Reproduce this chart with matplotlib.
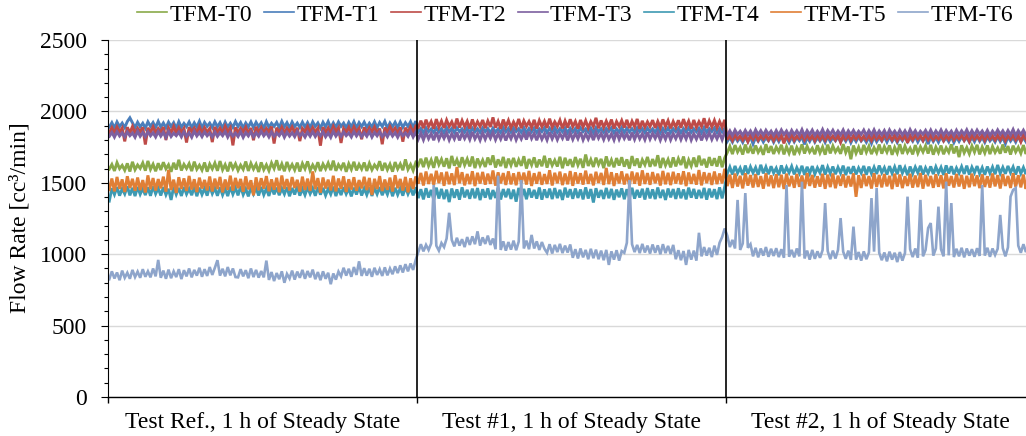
import numpy as np
import matplotlib
matplotlib.use("Agg")
import matplotlib.pyplot as plt
from matplotlib.ticker import MultipleLocator, FixedLocator, NullFormatter
from matplotlib.lines import Line2D

plt.rcParams['font.family'] = ['Liberation Serif', 'DejaVu Serif']

series_names = ["TFM-T0", "TFM-T1", "TFM-T2", "TFM-T3", "TFM-T4", "TFM-T5", "TFM-T6"]
series_colors = ["#8AAA4A", "#4A7EBB", "#BE4B48", "#7D60A0", "#3E9AB3", "#E07F36", "#8EA5CB"]
segment_labels = ["Test Ref., 1 h of Steady State", "Test #1, 1 h of Steady State",
                  "Test #2, 1 h of Steady State"]
y_ticks = [0, 500, 1000, 1500, 2000, 2500]

# flow rate readings [cc3/min], 120 samples per 1 h test, three tests one after another
T0 = [1596,1628,1583,1641,1599,1622,1588,1636,1579,1647,1592,1625,1601,1639,1585,1653,1594,1630,1581,1637,
      1590,1644,1598,1626,1577,1640,1593,1661,1586,1629,1600,1634,1582,1648,1595,1623,1589,1642,1578,1631,
      1597,1638,1584,1652,1591,1627,1580,1645,1599,1633,1587,1624,1594,1649,1583,1636,1596,1630,1576,1643,
      1592,1626,1585,1639,1600,1658,1588,1632,1581,1646,1595,1628,1590,1641,1579,1635,1598,1650,1586,1625,
      1593,1644,1582,1631,1597,1638,1589,1655,1584,1627,1599,1640,1577,1633,1594,1647,1587,1629,1596,1642,
      1583,1636,1591,1625,1600,1651,1585,1639,1592,1630,1578,1645,1597,1632,1588,1664,1594,1628,1586,1641,
      1622,1668,1610,1676,1618,1660,1605,1683,1627,1665,1613,1672,1601,1688,1620,1662,1609,1679,1624,1667,
      1615,1684,1603,1670,1621,1659,1611,1677,1626,1692,1607,1664,1617,1681,1604,1669,1623,1674,1612,1661,
      1619,1686,1600,1666,1625,1678,1608,1663,1616,1689,1606,1671,1622,1658,1614,1682,1602,1675,1620,1665,
      1610,1680,1624,1668,1605,1698,1618,1662,1611,1676,1627,1667,1603,1685,1616,1660,1609,1673,1621,1679,
      1613,1664,1600,1687,1619,1670,1606,1661,1626,1681,1612,1666,1617,1693,1604,1674,1622,1663,1608,1678,
      1615,1669,1625,1684,1602,1660,1618,1677,1611,1690,1623,1667,1607,1680,1620,1672,1614,1686,1609,1675,
      1712,1755,1701,1764,1716,1748,1698,1768,1709,1752,1704,1761,1714,1745,1696,1770,1711,1757,1702,1750,
      1717,1766,1699,1753,1708,1760,1694,1747,1713,1769,1705,1756,1715,1742,1700,1763,1710,1751,1697,1767,
      1706,1758,1716,1744,1703,1771,1712,1754,1665,1761,1707,1749,1698,1765,1714,1756,1701,1746,1711,1768,
      1704,1753,1715,1762,1696,1748,1709,1770,1702,1757,1713,1743,1699,1764,1708,1752,1716,1759,1705,1766,
      1697,1750,1712,1761,1700,1745,1714,1769,1706,1755,1680,1763,1710,1747,1703,1758,1715,1766,1699,1751,
      1709,1762,1701,1754,1713,1745,1704,1768,1711,1757,1698,1760,1716,1749,1707,1764,1702,1753,1712,1761]
T1 = [1890,1921,1884,1926,1893,1918,1887,1929,1955,1920,1886,1924,1892,1917,1883,1927,1895,1922,1888,1930,
      1891,1919,1885,1925,1894,1921,1882,1928,1889,1916,1893,1926,1886,1920,1890,1931,1884,1923,1895,1918,
      1887,1927,1892,1921,1883,1925,1890,1917,1888,1929,1894,1922,1885,1919,1891,1926,1886,1924,1893,1920,
      1882,1928,1889,1917,1895,1923,1887,1930,1891,1921,1884,1926,1893,1918,1888,1925,1890,1922,1886,1927,
      1894,1919,1883,1924,1892,1929,1887,1920,1889,1926,1895,1918,1885,1923,1891,1928,1884,1921,1893,1925,
      1888,1917,1890,1927,1886,1922,1894,1930,1883,1919,1892,1924,1887,1926,1889,1921,1895,1928,1885,1932,
      1856,1880,1851,1885,1858,1877,1853,1883,1855,1879,1850,1887,1857,1881,1852,1884,1859,1878,1854,1886,
      1851,1882,1856,1879,1853,1885,1858,1880,1850,1883,1855,1877,1852,1888,1857,1881,1854,1884,1859,1879,
      1853,1886,1850,1880,1856,1883,1852,1878,1858,1885,1851,1881,1855,1887,1853,1879,1857,1884,1850,1882,
      1856,1880,1852,1885,1858,1878,1854,1883,1851,1886,1857,1879,1853,1881,1859,1884,1850,1877,1855,1887,
      1852,1882,1856,1879,1854,1885,1858,1880,1851,1883,1857,1878,1853,1886,1850,1881,1855,1884,1852,1879,
      1858,1883,1851,1880,1856,1885,1853,1878,1857,1882,1850,1887,1854,1880,1859,1884,1852,1881,1856,1883,
      1790,1819,1785,1823,1792,1816,1783,1821,1788,1825,1772,1818,1791,1822,1786,1817,1794,1824,1784,1820,
      1789,1826,1793,1815,1782,1822,1787,1819,1795,1823,1769,1818,1790,1825,1785,1816,1792,1821,1783,1824,
      1788,1817,1794,1822,1786,1820,1791,1826,1781,1819,1789,1823,1793,1815,1784,1821,1776,1824,1787,1818,
      1792,1822,1785,1825,1790,1817,1783,1820,1794,1823,1788,1816,1791,1826,1786,1819,1793,1821,1771,1824,
      1789,1818,1784,1822,1792,1815,1787,1825,1782,1820,1790,1823,1795,1817,1785,1821,1788,1826,1791,1819,
      1783,1822,1793,1816,1786,1824,1789,1820,1774,1823,1792,1818,1785,1825,1790,1817,1787,1821,1794,1824]
T2 = [1852,1886,1848,1891,1855,1883,1790,1889,1850,1894,1846,1882,1857,1888,1768,1885,1853,1892,1849,1880,
      1856,1890,1800,1884,1851,1895,1847,1887,1854,1881,1782,1889,1858,1884,1850,1893,1845,1886,1855,1880,
      1785,1891,1852,1883,1848,1896,1856,1885,1762,1888,1851,1882,1857,1890,1846,1884,1798,1892,1853,1887,
      1849,1881,1855,1894,1775,1886,1850,1889,1847,1883,1858,1891,1852,1885,1792,1880,1856,1893,1848,1887,
      1854,1882,1760,1890,1851,1884,1846,1895,1857,1886,1779,1881,1853,1889,1849,1892,1855,1883,1805,1888,
      1850,1885,1856,1891,1847,1880,1770,1887,1852,1894,1858,1883,1845,1889,1788,1886,1854,1892,1849,1897,
      1888,1935,1882,1942,1893,1929,1879,1946,1890,1932,1884,1939,1895,1927,1881,1950,1887,1936,1892,1931,
      1880,1944,1889,1928,1894,1940,1883,1933,1891,1958,1886,1930,1878,1943,1893,1937,1885,1926,1890,1947,
      1882,1934,1896,1929,1887,1941,1880,1936,1892,1931,1884,1949,1889,1927,1895,1938,1881,1933,1886,1945,
      1893,1930,1879,1940,1890,1935,1885,1928,1894,1955,1882,1937,1888,1932,1891,1943,1880,1929,1895,1936,
      1886,1941,1883,1931,1892,1947,1878,1934,1889,1927,1894,1939,1884,1930,1887,1944,1893,1935,1881,1929,
      1890,1938,1885,1946,1892,1932,1879,1940,1888,1928,1894,1952,1883,1934,1891,1937,1886,1930,1889,1941,
      1802,1833,1797,1838,1805,1828,1799,1836,1789,1831,1804,1840,1798,1829,1806,1835,1800,1832,1796,1837,
      1803,1830,1776,1834,1801,1839,1797,1827,1807,1833,1799,1836,1804,1829,1795,1841,1802,1831,1798,1834,
      1806,1828,1800,1837,1785,1832,1803,1835,1797,1830,1805,1838,1799,1827,1801,1833,1796,1836,1804,1829,
      1798,1840,1807,1831,1800,1834,1795,1828,1803,1837,1780,1832,1801,1835,1806,1830,1797,1839,1802,1833,
      1799,1827,1805,1836,1796,1831,1803,1838,1800,1829,1807,1834,1798,1832,1791,1837,1804,1830,1801,1835,
      1797,1839,1805,1828,1799,1833,1802,1836,1795,1830,1806,1834,1800,1831,1787,1838,1803,1829,1798,1836]
T3 = [1825,1853,1820,1858,1828,1850,1822,1856,1830,1849,1819,1861,1826,1852,1823,1857,1829,1851,1821,1859,
      1827,1854,1818,1860,1824,1848,1830,1855,1822,1858,1826,1850,1819,1862,1828,1853,1823,1857,1829,1849,
      1821,1856,1825,1851,1830,1860,1820,1854,1827,1848,1824,1858,1818,1852,1828,1857,1822,1850,1826,1861,
      1829,1853,1821,1856,1825,1849,1830,1859,1819,1854,1827,1851,1823,1860,1828,1848,1820,1855,1826,1858,
      1824,1852,1829,1857,1822,1850,1818,1861,1827,1853,1825,1856,1830,1849,1821,1859,1828,1854,1823,1851,
      1826,1860,1820,1853,1829,1857,1824,1850,1822,1858,1827,1852,1819,1856,1830,1849,1825,1861,1821,1855,
      1806,1848,1801,1852,1809,1845,1798,1855,1804,1847,1811,1850,1800,1844,1807,1853,1797,1849,1810,1846,
      1803,1856,1808,1843,1799,1851,1805,1848,1812,1854,1802,1845,1806,1850,1796,1847,1809,1853,1801,1844,
      1807,1849,1803,1857,1810,1846,1798,1851,1805,1843,1800,1854,1808,1848,1802,1845,1811,1852,1797,1850,
      1804,1847,1809,1855,1801,1844,1806,1849,1799,1853,1812,1846,1803,1851,1807,1843,1800,1856,1805,1848,
      1810,1845,1798,1852,1804,1850,1808,1844,1802,1854,1806,1847,1811,1849,1799,1846,1805,1853,1801,1845,
      1809,1851,1803,1848,1807,1855,1800,1844,1806,1850,1797,1847,1810,1852,1804,1845,1808,1849,1802,1854,
      1835,1864,1830,1869,1838,1861,1832,1867,1836,1863,1829,1871,1837,1865,1833,1868,1839,1862,1831,1866,
      1834,1870,1838,1863,1830,1867,1836,1864,1833,1872,1828,1865,1837,1869,1832,1861,1835,1873,1831,1866,
      1838,1868,1833,1862,1836,1870,1830,1864,1837,1867,1834,1861,1839,1869,1831,1865,1835,1871,1832,1863,
      1836,1866,1829,1870,1838,1862,1833,1868,1835,1864,1830,1872,1837,1865,1832,1861,1839,1867,1834,1869,
      1831,1863,1836,1870,1833,1866,1838,1862,1830,1868,1835,1864,1837,1871,1832,1865,1834,1869,1839,1863,
      1833,1867,1831,1862,1836,1870,1838,1864,1832,1866,1835,1873,1830,1865,1837,1868,1834,1862,1836,1870]
T4 = [1372,1462,1418,1470,1410,1458,1422,1475,1412,1465,1407,1471,1420,1460,1414,1468,1409,1476,1423,1463,
      1411,1469,1416,1458,1380,1472,1419,1464,1408,1470,1421,1459,1413,1474,1406,1466,1418,1461,1410,1477,
      1424,1463,1409,1469,1415,1460,1407,1472,1420,1465,1412,1475,1417,1458,1405,1468,1422,1463,1411,1471,
      1416,1460,1408,1474,1419,1466,1413,1461,1421,1470,1406,1464,1418,1476,1410,1459,1415,1467,1423,1462,
      1409,1471,1417,1465,1412,1458,1420,1473,1407,1463,1414,1469,1422,1460,1405,1466,1418,1474,1411,1461,
      1416,1468,1408,1463,1421,1470,1413,1459,1419,1475,1406,1465,1417,1462,1410,1471,1422,1464,1412,1469,
      1393,1455,1384,1462,1397,1450,1381,1466,1390,1457,1386,1452,1365,1460,1395,1454,1382,1468,1398,1451,
      1388,1459,1392,1463,1379,1455,1396,1461,1385,1449,1394,1465,1383,1456,1399,1458,1387,1452,1368,1464,
      1391,1457,1385,1461,1397,1450,1389,1467,1382,1454,1395,1459,1386,1463,1393,1451,1380,1466,1398,1455,
      1388,1460,1394,1453,1384,1468,1390,1456,1362,1462,1396,1449,1387,1464,1392,1457,1381,1452,1399,1461,
      1385,1455,1393,1465,1389,1450,1397,1458,1383,1463,1391,1454,1386,1467,1394,1451,1380,1460,1398,1456,
      1387,1462,1392,1453,1384,1466,1396,1457,1389,1450,1393,1464,1382,1459,1398,1455,1386,1468,1391,1472,
      1565,1610,1558,1618,1568,1604,1555,1621,1562,1612,1570,1607,1556,1626,1566,1611,1560,1616,1569,1603,
      1553,1622,1564,1609,1571,1615,1559,1606,1567,1619,1555,1612,1565,1617,1561,1605,1570,1624,1557,1610,
      1566,1614,1560,1608,1568,1620,1554,1611,1563,1616,1559,1604,1569,1618,1556,1613,1565,1609,1562,1621,
      1571,1606,1557,1617,1566,1611,1560,1623,1568,1607,1553,1614,1564,1610,1570,1619,1558,1605,1567,1615,
      1561,1612,1569,1608,1555,1622,1565,1616,1559,1604,1568,1613,1562,1620,1557,1609,1570,1617,1564,1606,
      1556,1614,1567,1610,1560,1625,1566,1608,1563,1618,1571,1611,1558,1615,1565,1607,1561,1621,1569,1612]
T5 = [1452,1530,1440,1541,1458,1524,1436,1546,1463,1528,1444,1537,1449,1519,1432,1552,1455,1533,1446,1526,
      1461,1543,1438,1590,1450,1522,1429,1539,1457,1531,1443,1548,1453,1525,1435,1536,1460,1520,1447,1544,
      1439,1529,1456,1541,1433,1523,1451,1550,1445,1534,1462,1527,1437,1545,1454,1518,1412,1538,1448,1532,
      1459,1547,1441,1524,1452,1535,1434,1551,1457,1526,1446,1540,1463,1521,1438,1543,1450,1529,1443,1580,
      1455,1533,1431,1537,1460,1522,1447,1549,1440,1530,1458,1545,1436,1525,1453,1539,1444,1519,1461,1542,
      1449,1534,1415,1528,1456,1547,1442,1523,1451,1536,1439,1553,1462,1527,1445,1541,1433,1531,1457,1544,
      1494,1569,1481,1579,1492,1563,1486,1584,1498,1572,1479,1577,1490,1566,1484,1610,1497,1574,1482,1562,
      1491,1581,1477,1570,1495,1576,1487,1564,1493,1586,1480,1573,1496,1568,1485,1580,1489,1566,1483,1575,
      1498,1571,1488,1583,1478,1567,1494,1576,1486,1561,1492,1588,1481,1570,1497,1578,1484,1565,1490,1582,
      1479,1573,1495,1567,1487,1585,1493,1562,1482,1577,1499,1569,1485,1604,1491,1574,1478,1566,1496,1580,
      1488,1563,1483,1579,1494,1571,1480,1587,1492,1568,1486,1575,1497,1564,1481,1583,1490,1570,1484,1577,
      1495,1566,1489,1581,1477,1572,1493,1562,1487,1589,1482,1574,1498,1568,1485,1579,1491,1565,1496,1598,
      1477,1557,1464,1565,1474,1549,1461,1567,1480,1554,1467,1561,1471,1547,1459,1566,1476,1552,1463,1560,
      1469,1556,1457,1564,1475,1548,1465,1562,1472,1551,1460,1568,1478,1555,1466,1546,1473,1563,1458,1557,
      1470,1565,1462,1550,1479,1559,1467,1548,1474,1566,1402,1553,1464,1561,1477,1547,1460,1567,1471,1555,
      1468,1562,1475,1549,1456,1564,1473,1558,1463,1546,1478,1563,1466,1551,1470,1568,1459,1556,1476,1548,
      1465,1560,1472,1553,1461,1566,1479,1547,1467,1562,1474,1555,1458,1549,1469,1564,1477,1552,1463,1559,
      1471,1546,1466,1565,1475,1554,1460,1561,1478,1548,1464,1567,1472,1553,1468,1558,1457,1563,1474,1570]
T6 = [825,880,830,872,818,885,835,870,828,890,840,878,835,895,842,880,838,900,845,960,
      835,885,828,892,832,880,840,895,826,888,845,900,838,890,850,905,842,895,848,910,
      855,905,958,850,898,845,910,852,900,840,838,895,845,888,832,900,840,890,836,882,
      838,955,820,875,812,868,825,880,800,862,830,885,822,878,835,890,828,882,838,892,
      825,875,818,880,828,870,790,865,822,878,845,905,850,898,842,910,855,950,848,902,
      850,898,842,905,855,895,848,908,852,900,860,915,868,922,872,930,880,935,890,960,
      1015,1070,1020,1065,1030,1075,1485,1060,1025,1078,1050,1110,1290,1100,1055,1115,1060,1105,1050,1120,
      1065,1125,1070,1160,1060,1118,1072,1130,1065,1110,1035,1550,1030,1090,1025,1085,1032,1095,1028,1088,
      1520,1040,1095,1035,1135,1040,1090,1030,1085,1038,1010,1070,1005,1065,1015,1072,1008,1060,1012,1068,
      975,1035,970,1040,978,1030,965,1038,972,1032,965,1025,958,1030,925,1020,962,1028,955,1022,
      1010,1080,1520,1070,1015,1065,1008,1072,1012,1060,1005,1068,1010,1062,1000,1070,1008,1058,1002,1065,
      965,1028,958,1022,925,1030,962,1025,955,1150,985,1050,990,1045,980,1060,995,1080,1120,1180,
      1130,1050,1100,1040,1380,1030,1075,1428,1045,1070,985,1045,978,1040,990,1050,982,1038,988,1042,
      980,1035,975,1485,982,1030,978,1040,985,1508,970,1025,962,1030,968,1020,975,1028,1358,1022,
      965,1025,970,1030,1253,1018,968,1025,960,1193,962,1015,955,1020,965,1012,1393,1018,1463,1010,
      958,1012,950,1018,962,1010,945,1015,955,1008,1403,1035,980,1040,975,1380,985,1030,1183,1218,
      990,1040,1333,1035,985,1508,992,1358,980,1038,985,1045,978,1040,990,1035,982,1042,988,1485,
      990,1045,982,1040,995,1038,1275,1042,985,1048,1403,1450,1463,1060,1010,1070,1015,1065,1020,1072]

series_values = [T0, T1, T2, T3, T4, T5, T6]
series_widths = [2.1, 2.1, 2.1, 2.1, 2.1, 2.1, 1.9]

W, H = 1026, 436
fig = plt.figure(figsize=(W / 100, H / 100), dpi=100)
ax = fig.add_axes([108 / W, 1 - 397 / H, 927 / W, 357 / H])

n_seg = len(segment_labels)
for vals, name, col, lw in zip(series_values, series_names, series_colors, series_widths):
    n = len(vals)
    t = (np.arange(n) + 0.5) * n_seg / n
    ax.plot(t, vals, color=col, lw=lw, label=name, solid_joinstyle='miter')

ax.set_xlim(0, n_seg)
ax.set_ylim(0, 2500)
ax.set_yticks(y_ticks)
ax.yaxis.set_minor_locator(MultipleLocator(100))
ax.grid(axis='y', which='major', color='#D9D9D9', lw=1.0)
ax.set_axisbelow(True)

for s in ['top', 'right']:
    ax.spines[s].set_visible(False)
ax.spines['left'].set_color('#000000')
ax.spines['left'].set_linewidth(0.8)
ax.spines['bottom'].set_color('#000000')
ax.spines['bottom'].set_linewidth(1.0)

ax.tick_params(axis='y', which='major', length=5, width=0.8, pad=10, labelsize=17, colors='black')
ax.tick_params(axis='y', which='minor', length=3, width=0.8)

ax.xaxis.set_major_locator(FixedLocator(list(range(n_seg + 1))))
ax.xaxis.set_major_formatter(NullFormatter())
ax.xaxis.set_minor_locator(FixedLocator([i + 0.5 for i in range(n_seg)]))
ax.set_xticklabels(segment_labels, minor=True)
ax.tick_params(axis='x', which='major', length=4.5, width=1.0)
ax.tick_params(axis='x', which='minor', length=0, pad=11, labelsize=17)

for b in range(1, n_seg):
    ax.axvline(b, color='black', lw=1.2, zorder=5)

fig.text(20 / W, 1 - 218 / H, "Flow Rate [cc³/min]", rotation=90, ha='center', va='center',
         fontsize=17)

handles = [Line2D([], [], color=c, lw=1.2) for c in series_colors]
fig.legend(handles, series_names, loc='center', bbox_to_anchor=(575 / W, 1 - 15 / H), ncol=7,
           frameon=False, fontsize=17, handlelength=1.27, handletextpad=0.1, columnspacing=0.5,
           borderpad=0, borderaxespad=0)

fig.savefig("out.png", dpi=100)
